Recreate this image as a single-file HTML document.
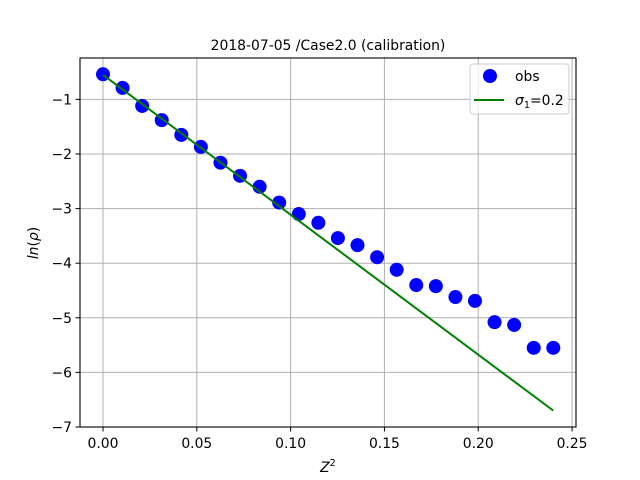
<!DOCTYPE html>
<html><head><meta charset="utf-8"><style>body{margin:0;background:#fff}svg{display:block;font-family:"DejaVu Sans","Liberation Sans",sans-serif}</style></head>
<body>
<svg id="chart" width="640" height="480"></svg>
<script>
const zsq = [0,0.01043,0.02087,0.0313,0.04174,0.05217,0.0626,0.07304,0.08348,0.0939,0.10435,0.11478,0.1252,0.13565,0.14609,0.15652,0.16696,0.17739,0.18783,0.19826,0.2087,0.21913,0.22957,0.24];
const lnrho = [-0.54,-0.79,-1.12,-1.38,-1.65,-1.87,-2.16,-2.40,-2.60,-2.89,-3.10,-3.26,-3.54,-3.67,-3.89,-4.12,-4.40,-4.42,-4.62,-4.69,-5.08,-5.13,-5.55,-5.55];
const fitX = [0,0.24];
const fitY = [-0.55,-6.70];
const xTicks = [0,0.05,0.10,0.15,0.20,0.25];
const xTickLabels = ["0.00","0.05","0.10","0.15","0.20","0.25"];
const yTicks = [-1,-2,-3,-4,-5,-6,-7];
const yTickLabels = ["−1","−2","−3","−4","−5","−6","−7"];

const L=80,R=576,T=58,B=427;
const xmin=-0.01226,xmax=0.2521,ymin=-7,ymax=-0.242;
const sx=v=>L+(v-xmin)/(xmax-xmin)*(R-L);
const sy=v=>B-(v-ymin)/(ymax-ymin)*(B-T);
const svg=document.getElementById('chart');
const NS='http://www.w3.org/2000/svg';
function mk(tag,attrs,parent){const e=document.createElementNS(NS,tag);for(const k in attrs)e.setAttribute(k,attrs[k]);(parent||svg).appendChild(e);return e;}

xTicks.forEach((t,i)=>{const x=sx(t);
 const g=mk('line',{x1:x,x2:x,y1:T,y2:B,stroke:'#b0b0b0','stroke-width':1});
 
 
 mk('line',{x1:x,x2:x,y1:B,y2:B+4.5,stroke:'#000','stroke-width':1});
 const tx=mk('text',{x:x,y:B+21,'font-size':13.9,'text-anchor':'middle'});tx.textContent=xTickLabels[i];
 
 
});
yTicks.forEach((t,i)=>{const y=sy(t);
 const g=mk('line',{x1:L,x2:R,y1:y,y2:y,stroke:'#b0b0b0','stroke-width':1});
 
 
 mk('line',{x1:L-4.5,x2:L,y1:y,y2:y,stroke:'#000','stroke-width':1});
 const tx=mk('text',{x:L-8,y:y+5,'font-size':13.9,'text-anchor':'end'});tx.textContent=yTickLabels[i];
 
 
});
zsq.forEach((z,i)=>{const c=mk('circle',{cx:sx(z),cy:sy(lnrho[i]),r:7,fill:'#0000ff'});
 
 });
const fl=mk('line',{x1:sx(fitX[0]),y1:sy(fitY[0]),x2:sx(fitX[1]),y2:sy(fitY[1]),stroke:'#008000','stroke-width':2});


const fr=mk('rect',{x:L,y:T,width:R-L,height:B-T,fill:'none',stroke:'#000','stroke-width':1.1});


</script>
<div style="position:absolute;left:0;top:0;width:640px;height:480px;pointer-events:none">
<svg width="640" height="480" style="font-family:'DejaVu Sans','Liberation Sans',sans-serif">
 <text x="328" y="50" font-size="13.9" text-anchor="middle">2018-07-05 /Case2.0 (calibration)</text>
 <text x="328" y="472" font-size="13.9" text-anchor="middle" font-style="italic">Z<tspan dy="-6" font-size="9.7" font-style="normal">2</tspan></text>
 <text transform="translate(38,243) rotate(-90)" font-size="13.9" text-anchor="middle"><tspan font-style="italic">ln</tspan>(<tspan font-style="italic">ρ</tspan>)</text>
 <g>
  <rect x="470" y="64" width="99" height="50" rx="3" fill="#fff" fill-opacity="0.8" stroke="#ccc" stroke-width="1"/>
  <circle cx="490" cy="76" r="7" fill="#0000ff"/>
  <text x="515" y="81" font-size="13.9">obs</text>
  <line x1="474" x2="504" y1="100" y2="100" stroke="#008000" stroke-width="2"/>
  <text x="515" y="105" font-size="13.9"><tspan font-style="italic">σ</tspan><tspan dy="3" font-size="9.7">1</tspan><tspan dy="-3">=0.2</tspan></text>
 </g>
</svg></div>
</body></html>
